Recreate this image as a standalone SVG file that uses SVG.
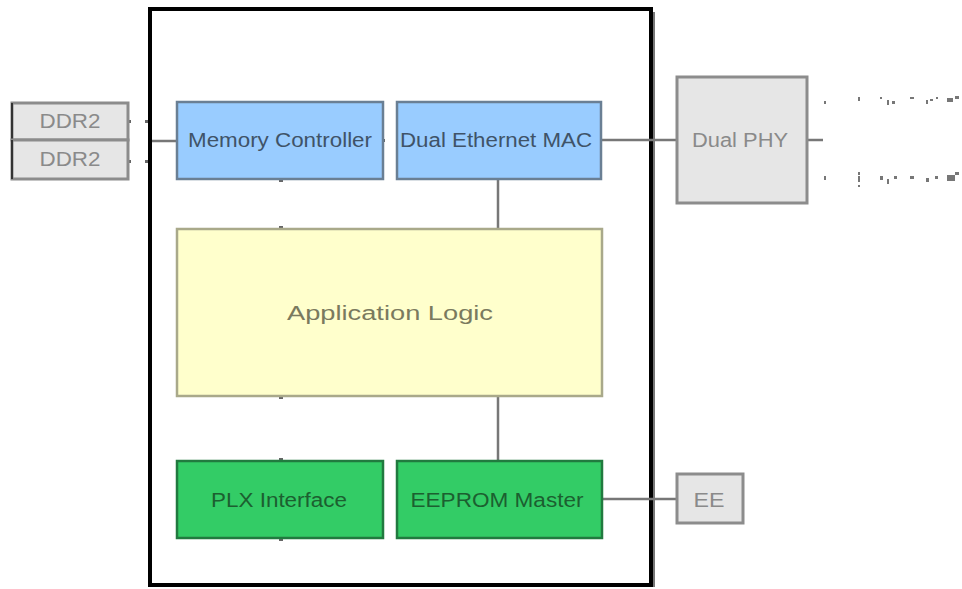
<svg xmlns="http://www.w3.org/2000/svg" width="962" height="589" viewBox="0 0 962 589">
<style>
text{font-family:"Liberation Sans",Arial,sans-serif;font-size:20px;text-anchor:middle}
.blue{fill:#99ccff;stroke:#6a7f94;stroke-width:2.5}
.green{fill:#33cc66;stroke:#217a3f;stroke-width:2.5}
.yellow{fill:#ffffcc;stroke:#a9a98a;stroke-width:2.5}
.gray{fill:#e6e6e6;stroke:#8c8c8c;stroke-width:3}
.tb{fill:#3f5368}.tg{fill:#1c5f30}.ty{fill:#7a7a5e}.tgr{fill:#8a8a8a}
.wire{stroke:#777;stroke-width:2.5;fill:none}
.port{fill:#666}
.dot{fill:#777}
</style>
<g id="fpga-frame">
<rect x="150" y="9" width="501" height="576" fill="#fff" stroke="#000" stroke-width="4"/>
<line x1="654" y1="12" x2="654" y2="587" stroke="#777" stroke-width="2"/>
</g>
<g id="connectors">
<line class="wire" x1="152" y1="141" x2="177" y2="141"/>
<line class="wire" x1="601" y1="140" x2="677" y2="140"/>
<line class="wire" x1="498" y1="179" x2="498" y2="229"/>
<line class="wire" x1="498" y1="396" x2="498" y2="461"/>
<line class="wire" x1="602" y1="499" x2="677" y2="499"/>
<line class="wire" x1="807" y1="140" x2="823" y2="140"/>
<rect class="port" x="128" y="120" width="3" height="3"/>
<rect class="port" x="145" y="120" width="3" height="3"/>
<rect class="port" x="128" y="160" width="3" height="3"/>
<rect class="port" x="145" y="160" width="3" height="3"/>
<rect class="port" x="279" y="179" width="4" height="3"/>
<rect class="port" x="279" y="226" width="4" height="3"/>
<rect class="port" x="279" y="396" width="4" height="3"/>
<rect class="port" x="279" y="458" width="4" height="3"/>
<rect class="port" x="279" y="538" width="4" height="3"/>
<rect class="port" x="382" y="139" width="3" height="3"/>
</g>
<g id="ddr2-a"><rect class="gray" x="12" y="103" width="116" height="37"/><line x1="12" y1="103" x2="12" y2="140" stroke="#333" stroke-width="2"/><text class="tgr" x="70" y="128" textLength="61" lengthAdjust="spacingAndGlyphs">DDR2</text></g>
<g id="ddr2-b"><rect class="gray" x="12" y="140" width="116" height="39"/><line x1="12" y1="140" x2="12" y2="179" stroke="#333" stroke-width="2"/><text class="tgr" x="70" y="166" textLength="61" lengthAdjust="spacingAndGlyphs">DDR2</text></g>
<g id="memory-controller"><rect class="blue" x="177" y="102" width="206" height="77"/><text class="tb" x="280" y="147" textLength="184" lengthAdjust="spacingAndGlyphs">Memory Controller</text></g>
<g id="dual-ethernet-mac"><rect class="blue" x="397" y="102" width="204" height="77"/><text class="tb" x="496" y="147" textLength="192" lengthAdjust="spacingAndGlyphs">Dual Ethernet MAC</text></g>
<g id="application-logic"><rect class="yellow" x="177" y="229" width="425" height="167"/><text class="ty" x="390" y="320" font-size="23" textLength="206" lengthAdjust="spacingAndGlyphs">Application Logic</text></g>
<g id="plx-interface"><rect class="green" x="177" y="461" width="206" height="77"/><text class="tg" x="279" y="507" textLength="136" lengthAdjust="spacingAndGlyphs">PLX Interface</text></g>
<g id="eeprom-master"><rect class="green" x="397" y="461" width="205" height="77"/><text class="tg" x="497" y="507" textLength="173" lengthAdjust="spacingAndGlyphs">EEPROM Master</text></g>
<g id="dual-phy"><rect class="gray" x="677" y="77" width="130" height="126"/><text class="tgr" x="740" y="147" textLength="96" lengthAdjust="spacingAndGlyphs">Dual PHY</text></g>
<g id="ee"><rect class="gray" x="677" y="474" width="66" height="49"/><text class="tgr" x="709" y="507" textLength="31" lengthAdjust="spacingAndGlyphs">EE</text></g>
<g id="phy-port-marks">
<rect class="dot" x="824" y="101" width="2" height="3"/><rect class="dot" x="858" y="97" width="2" height="4"/><rect class="dot" x="880" y="97" width="2" height="2"/><rect class="dot" x="887" y="100" width="2" height="5"/><rect class="dot" x="892" y="101" width="3" height="3"/><rect class="dot" x="910" y="97" width="4" height="2"/><rect class="dot" x="926" y="100" width="2" height="4"/><rect class="dot" x="930" y="99" width="3" height="2"/><rect class="dot" x="936" y="97" width="2" height="2"/><rect class="dot" x="947" y="98" width="6" height="4"/><rect class="dot" x="955" y="96" width="4" height="3"/>
<rect class="dot" x="824" y="176" width="2" height="4"/><rect class="dot" x="858" y="172" width="2" height="3"/><rect class="dot" x="858" y="176" width="2" height="6"/><rect class="dot" x="858" y="185" width="2" height="2"/><rect class="dot" x="880" y="176" width="3" height="4"/><rect class="dot" x="887" y="179" width="2" height="5"/><rect class="dot" x="894" y="176" width="3" height="3"/><rect class="dot" x="910" y="176" width="4" height="3"/><rect class="dot" x="926" y="178" width="3" height="4"/><rect class="dot" x="935" y="176" width="3" height="3"/><rect class="dot" x="947" y="175" width="8" height="6"/><rect class="dot" x="955" y="172" width="4" height="3"/>
</g>
</svg>
